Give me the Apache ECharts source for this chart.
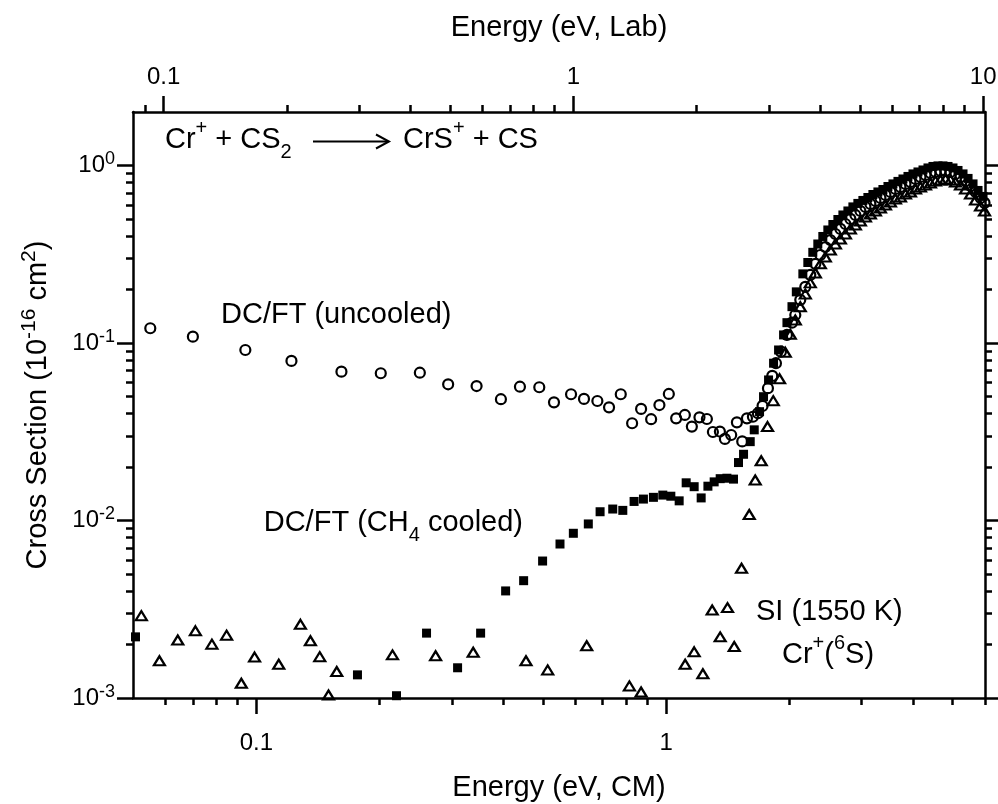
<!DOCTYPE html>
<html><head><meta charset="utf-8">
<script src="https://cdn.jsdelivr.net/npm/echarts@6/dist/echarts.min.js"></script>
<style>html,body{margin:0;padding:0;background:#fff}#c{width:998px;height:804px}</style>
</head><body><div id="c"></div>
<script>
const FONT = '"Liberation Sans", Arial, Helvetica, sans-serif';

// ---- axis ranges / ticks ----
const cmMin = 0.05, cmMax = 6;
const labPerCM = 128 / 76;               // E_lab = E_CM * (m_Cr + m_CS2) / m_CS2
const yMin = 0.001, yMax = 2;
const cmMajorTicks = [0.1, 1];
const cmMinorTicks = [0.06, 0.07, 0.08, 0.09, 0.2, 0.3, 0.4, 0.5, 0.6, 0.7, 0.8, 0.9, 2, 3, 4, 5, 6];
const labMajorTicks = [0.1, 1, 10];
const labMinorTicks = [0.09, 0.2, 0.3, 0.4, 0.5, 0.6, 0.7, 0.8, 0.9, 2, 3, 4, 5, 6, 7, 8, 9];
const yMajorTicks = [0.001, 0.01, 0.1, 1];
const yMinorTicks = [0.002, 0.003, 0.004, 0.005, 0.006, 0.007, 0.008, 0.009,
  0.02, 0.03, 0.04, 0.05, 0.06, 0.07, 0.08, 0.09, 0.2, 0.3, 0.4, 0.5, 0.6, 0.7, 0.8, 0.9];

// ---- data: DC/FT (uncooled), open circles ----
const uncooledE = [0.0551, 0.0700, 0.0940, 0.1218, 0.1613, 0.2012, 0.2506, 0.2938, 0.3447, 0.3952,
  0.4398, 0.4903, 0.5325, 0.5861, 0.6303, 0.6795, 0.7256, 0.7750, 0.8260, 0.8688,
  0.9192, 0.9630, 1.0153, 1.0579, 1.1110, 1.1555, 1.2060, 1.2574, 1.3006, 1.3527,
  1.3913, 1.4414, 1.4883, 1.5336, 1.5747, 1.6284, 1.6749, 1.7190, 1.7720, 1.8155,
  1.8535, 1.9062, 1.9716, 2.0281, 2.0664];
const uncooledS = [0.121, 0.1085, 0.0913, 0.0792, 0.0689, 0.0675, 0.0680, 0.0585, 0.0572, 0.0482,
  0.0567, 0.0563, 0.0463, 0.0514, 0.0484, 0.0471, 0.0434, 0.0514, 0.0353, 0.0425,
  0.0372, 0.0447, 0.0516, 0.0376, 0.0393, 0.0338, 0.0381, 0.0373, 0.0315, 0.0317,
  0.0288, 0.0303, 0.0357, 0.0279, 0.0376, 0.0384, 0.0402, 0.0442, 0.0556, 0.0652,
  0.0769, 0.0893, 0.1110, 0.1301, 0.1438];

// ---- data: DC/FT (CH4 cooled), filled squares ----
const cooledE = [0.0507, 0.1765, 0.2198, 0.2602, 0.3098, 0.3526, 0.4058, 0.4490, 0.4995, 0.5508,
  0.5937, 0.6458, 0.6900, 0.7408, 0.7839, 0.8352, 0.8802, 0.9311, 0.9815, 1.0268,
  1.0760, 1.1192, 1.1706, 1.2176, 1.2646, 1.3098, 1.3549, 1.4071, 1.4603, 1.5019,
  1.5450, 1.6041, 1.6406, 1.6904, 1.7286, 1.7780, 1.8289, 1.8810, 1.9346, 1.9716,
  2.0281, 2.0782];
const cooledS = [0.00221, 0.00135, 0.00103, 0.00232, 0.00148, 0.00232, 0.00401, 0.00458, 0.00591, 0.00737,
  0.00847, 0.00956, 0.0112, 0.0116, 0.0114, 0.0128, 0.0132, 0.0135, 0.0139, 0.0137,
  0.0129, 0.0163, 0.0155, 0.0134, 0.0156, 0.0165, 0.0172, 0.0173, 0.0171, 0.0212,
  0.0236, 0.0278, 0.0324, 0.0410, 0.0498, 0.0619, 0.0769, 0.0913, 0.1110, 0.1301,
  0.1601, 0.194];

// ---- data: SI (1550 K) Cr+(6S), open triangles ----
const siE = [0.0524, 0.0580, 0.0643, 0.0710, 0.0779, 0.0846, 0.0919, 0.0990, 0.1134, 0.1281,
  0.1355, 0.1428, 0.1500, 0.1571, 0.2149, 0.2738, 0.3382, 0.4550, 0.5140, 0.6400,
  0.8135, 0.8688, 1.1128, 1.1706, 1.2293, 1.2953, 1.3549, 1.4119, 1.4661, 1.5276,
  1.5952, 1.6497, 1.7062, 1.7680, 1.8256, 1.8915, 1.9530, 2.0090, 2.0664];
const siS = [0.00291, 0.00162, 0.00212, 0.00239, 0.00201, 0.00226, 0.00121, 0.00170, 0.00155, 0.00260,
  0.00210, 0.00171, 0.00104, 0.00141, 0.00175, 0.00173, 0.00181, 0.00162, 0.00144, 0.00197,
  0.00117, 0.00108, 0.00155, 0.00182, 0.00137, 0.00313, 0.00221, 0.00323, 0.00195, 0.00538,
  0.0108, 0.0169, 0.0217, 0.0338, 0.0473, 0.0629, 0.0886, 0.1119, 0.1348];

// ---- high-energy region, where all three data sets crowd into one dark band ----
const bandE = [2.125, 2.186, 2.248, 2.313, 2.379, 2.446, 2.516, 2.588, 2.662, 2.738,
  2.816, 2.896, 2.979, 3.064, 3.151, 3.241, 3.334, 3.429, 3.527, 3.627,
  3.731, 3.837, 3.947, 4.060, 4.175, 4.294, 4.416, 4.543, 4.673, 4.806,
  4.943, 5.084, 5.229, 5.379, 5.532, 5.690, 5.852, 5.984];
const bandUncooledS = [0.175, 0.207, 0.242, 0.279, 0.313, 0.347, 0.380, 0.411, 0.439, 0.468,
  0.500, 0.526, 0.554, 0.584, 0.607, 0.631, 0.656, 0.682, 0.709, 0.737,
  0.757, 0.787, 0.807, 0.839, 0.861, 0.884, 0.907, 0.919, 0.931, 0.931,
  0.919, 0.896, 0.861, 0.818, 0.766, 0.709, 0.656, 0.615];
const bandSiS = [0.160, 0.189, 0.218, 0.248, 0.279, 0.305, 0.334, 0.361, 0.385, 0.411,
  0.439, 0.462, 0.487, 0.513, 0.533, 0.554, 0.576, 0.599, 0.623, 0.648,
  0.665, 0.691, 0.709, 0.737, 0.757, 0.776, 0.797, 0.818, 0.829, 0.839,
  0.829, 0.807, 0.776, 0.737, 0.691, 0.639, 0.591, 0.554];
const bandCooledE = [2.156, 2.217, 2.280, 2.345, 2.412, 2.481, 2.552, 2.625, 2.700, 2.777,
  2.856, 2.937, 3.021, 3.107, 3.196, 3.287, 3.381, 3.478, 3.577, 3.679,
  3.784, 3.892, 4.003, 4.117, 4.235, 4.355, 4.479, 4.607, 4.738, 4.874,
  5.012, 5.156, 5.303, 5.455, 5.610, 5.770, 5.934];
const bandCooledS = [0.245, 0.284, 0.324, 0.361, 0.398, 0.433, 0.465, 0.496, 0.526, 0.554,
  0.584, 0.611, 0.635, 0.660, 0.686, 0.709, 0.732, 0.761, 0.787, 0.813,
  0.839, 0.867, 0.896, 0.919, 0.943, 0.968, 0.987, 0.994, 0.994, 0.987,
  0.968, 0.937, 0.896, 0.845, 0.787, 0.723, 0.669];

function pairs(xs, ys) { return xs.map((x, i) => [x, ys[i]]); }

const black = '#000';
const lw = 2.5;
const TXT = 29;
function fmtNum(v) { return String(parseFloat(Number(v).toPrecision(4))); }

function axisDef(opts) {
  return Object.assign({
    type: 'log', logBase: 10,
    axisLine: { show: true, onZero: false, lineStyle: { color: black, width: lw } },
    splitLine: { show: false },
    minorTick: { show: false }, minorSplitLine: { show: false },
  }, opts);
}

const majorTick = (vals) => ({ show: true, inside: false, length: 16, customValues: vals, lineStyle: { color: black, width: lw } });
const minorTick = (vals) => ({ show: true, inside: false, length: 7, customValues: vals, lineStyle: { color: black, width: lw } });
const noLabel = { show: false };

const chart = echarts.init(document.getElementById('c'), null, { renderer: 'canvas' });

const option = {
  animation: false,
  backgroundColor: '#fff',
  grid: { left: 133, right: 13, top: 112, bottom: 106, containLabel: false, outerBoundsMode: 'none' },
  xAxis: [
    axisDef({ position: 'bottom', min: cmMin, max: cmMax,
      name: 'Energy (eV, CM)', nameLocation: 'middle', nameGap: 75,
      nameTextStyle: { fontFamily: FONT, fontSize: TXT, color: black },
      axisTick: majorTick(cmMajorTicks),
      axisLabel: { show: true, customValues: cmMajorTicks, margin: 33, fontFamily: FONT, fontSize: 24, color: black, formatter: fmtNum } }),
    axisDef({ position: 'bottom', min: cmMin, max: cmMax, axisLine: { show: false },
      axisTick: minorTick(cmMinorTicks), axisLabel: noLabel }),
    axisDef({ position: 'top', min: cmMin * labPerCM, max: cmMax * labPerCM,
      name: 'Energy (eV, Lab)', nameLocation: 'middle', nameGap: 70,
      nameTextStyle: { fontFamily: FONT, fontSize: TXT, color: black },
      axisTick: majorTick(labMajorTicks),
      axisLabel: { show: true, customValues: labMajorTicks, margin: 23, fontFamily: FONT, fontSize: 24, color: black, formatter: fmtNum } }),
    axisDef({ position: 'top', min: cmMin * labPerCM, max: cmMax * labPerCM, axisLine: { show: false },
      axisTick: minorTick(labMinorTicks), axisLabel: noLabel }),
  ],
  yAxis: [
    axisDef({ position: 'left', min: yMin, max: yMax,
      name: 'Cross Section (10{s|-16} cm{s|2})', nameLocation: 'middle', nameGap: 76, nameRotate: 90,
      nameTextStyle: { fontFamily: FONT, fontSize: TXT, color: black, lineHeight: 38,
        rich: { s: { fontFamily: FONT, fontSize: 21, color: black, lineHeight: 18, verticalAlign: 'top' } } },
      axisTick: majorTick(yMajorTicks),
      axisLabel: { show: true, customValues: yMajorTicks, margin: 18, fontFamily: FONT, fontSize: 24, color: black, lineHeight: 30,
        formatter: v => '10{s|' + Math.round(Math.log10(v)) + '}',
        rich: { s: { fontFamily: FONT, fontSize: 18, color: black, lineHeight: 16, verticalAlign: 'top' } } } }),
    axisDef({ position: 'left', min: yMin, max: yMax, axisLine: { show: false },
      axisTick: minorTick(yMinorTicks), axisLabel: noLabel }),
    axisDef({ position: 'right', min: yMin, max: yMax,
      axisTick: majorTick(yMajorTicks), axisLabel: noLabel }),
    axisDef({ position: 'right', min: yMin, max: yMax, axisLine: { show: false },
      axisTick: minorTick(yMinorTicks), axisLabel: noLabel }),
  ],
  series: [
    { name: 'DC/FT (uncooled)', type: 'scatter', xAxisIndex: 0, yAxisIndex: 0,
      data: pairs(uncooledE.concat(bandE), uncooledS.concat(bandUncooledS)),
      symbol: 'circle', symbolSize: 10,
      itemStyle: { color: 'rgba(0,0,0,0)', borderColor: black, borderWidth: 2.2, opacity: 1 } },
    { name: 'SI (1550 K)', type: 'scatter', xAxisIndex: 0, yAxisIndex: 0,
      data: pairs(siE.concat(bandE), siS.concat(bandSiS)),
      symbol: 'triangle', symbolSize: [11, 9],
      itemStyle: { color: 'rgba(0,0,0,0)', borderColor: black, borderWidth: 2.2, opacity: 1 } },
    { name: 'DC/FT (CH4 cooled)', type: 'scatter', xAxisIndex: 0, yAxisIndex: 0,
      data: pairs(cooledE.concat(bandCooledE), cooledS.concat(bandCooledS)),
      symbol: 'rect', symbolSize: 9,
      itemStyle: { color: black, opacity: 1 } },
  ],
  graphic: []
};

// ---- annotations ----
const mainRich = {
  m: { fontFamily: FONT, fontSize: TXT, color: black, lineHeight: 44, verticalAlign: 'middle' },
  sup: { fontFamily: FONT, fontSize: 20, color: black, lineHeight: 14, verticalAlign: 'top' },
  sub: { fontFamily: FONT, fontSize: 20, color: black, lineHeight: 18, verticalAlign: 'bottom' }
};
function txt(x, y, text, align) {
  return { type: 'text', x: x, y: y, silent: true,
    style: { text: text, rich: mainRich, fontFamily: FONT, fontSize: TXT, fill: black,
      align: align || 'left', verticalAlign: 'middle' } };
}
option.graphic = [
  txt(165, 140, '{m|Cr}{sup|+}{m| + CS}{sub|2}'),
  { type: 'line', silent: true, shape: { x1: 313, y1: 141.5, x2: 388, y2: 141.5 }, style: { stroke: black, lineWidth: 2 } },
  { type: 'polyline', silent: true, shape: { points: [[376, 134.5], [389, 141.5], [376, 148.5]] }, style: { stroke: black, lineWidth: 2, fill: null } },
  txt(403, 140, '{m|CrS}{sup|+}{m| + CS}'),
  txt(221, 315, '{m|DC/FT (uncooled)}'),
  txt(523, 523, '{m|DC/FT (CH}{sub|4}{m| cooled)}', 'right'),
  txt(756, 612, '{m|SI (1550 K)}'),
  txt(782, 655, '{m|Cr}{sup|+}{m|(}{sup|6}{m|S)}'),
];

chart.setOption(option);
</script>
</body></html>
